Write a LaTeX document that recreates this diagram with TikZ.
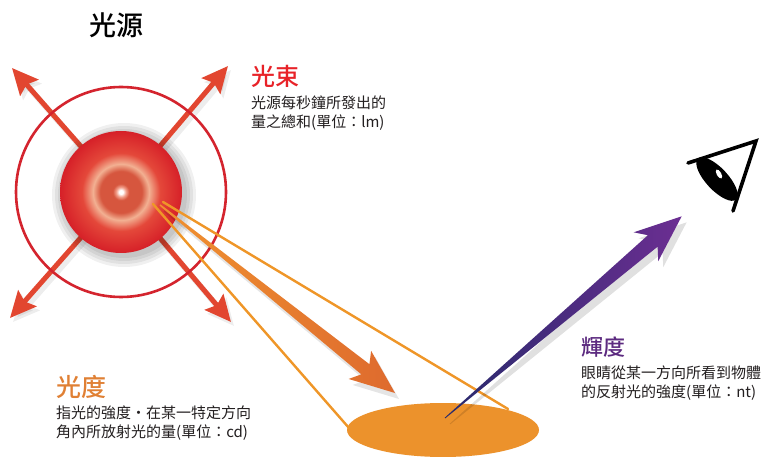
\documentclass[tikz,border=0pt]{standalone}
\usepackage{fontspec}
\setmainfont{Noto Sans CJK TC}
\newfontfamily\headfont{Noto Sans CJK TC}[UprightFont=* Medium]
\usetikzlibrary{arrows.meta,calc}

\definecolor{ringred}{RGB}{212,36,46}
\definecolor{rayred}{RGB}{226,70,48}
\definecolor{beamorange}{RGB}{239,150,40}
\definecolor{spotorange}{RGB}{236,146,44}
\definecolor{shaftorange}{RGB}{240,146,48}
\definecolor{headorange}{RGB}{222,106,46}
\definecolor{lumnavy}{RGB}{40,42,108}
\definecolor{lumpurple}{RGB}{108,46,146}
\definecolor{titlered}{RGB}{232,34,40}
\definecolor{titleorange}{RGB}{224,128,52}
\definecolor{titlepurple}{RGB}{92,42,128}
\definecolor{bodyblack}{RGB}{35,31,32}
\definecolor{lampedge}{RGB}{214,32,40}
\definecolor{lampred}{RGB}{228,72,58}
\definecolor{lamppeach}{RGB}{242,176,146}
\definecolor{lampmid}{RGB}{214,86,62}
\definecolor{lamppink}{RGB}{242,160,140}

% radial colour profile of the glowing source disc
\pgfdeclareradialshading{lampshade}{\pgfpoint{0bp}{0bp}}{%
  color(0bp)=(white); color(0.8bp)=(white); color(2bp)=(lamppink);
  color(3.4bp)=(lampmid); color(8.5bp)=(lampmid); color(11.5bp)=(lamppeach);
  color(16bp)=(lampred); color(25bp)=(lampedge); color(50bp)=(lampedge)}

% tapered arrows, drawn along the local x axis
\newcommand\intensitypath{(0,-0.8) -- (263,-6.5) -- (256,-18) -- (301,0) -- (256,18) -- (263,6.5) -- (0,0.8) -- cycle}
\newcommand\luminancepath{(0,-0.4) -- (273,-7.5) -- (264,-19) -- (311,0) -- (264,19) -- (273,7.5) -- (0,0.4) -- cycle}

\tikzset{
  raytip/.style={-{Stealth[length=26pt,width=24pt,inset=4pt]}, rayred, line width=5pt},
  rayshadow/.style={-{Stealth[length=26pt,width=24pt,inset=4pt]}, black, opacity=0.07, line width=6pt},
  beamline/.style={beamorange, line width=2.4pt, line cap=round},
  headline/.style={anchor=base west, inner sep=0pt},
  bodyline/.style={anchor=base west, inner sep=0pt, text=bodyblack, font=\fontsize{15}{19}\selectfont},
  softshadow/.style={fill=black, fill opacity=0.06},
}

\begin{document}
\begin{tikzpicture}[x=1pt,y=-1pt]
\useasboundingbox (0,0) rectangle (769,457);
\fill[white] (0,0) rectangle (769,457);

% --- key points
\coordinate (lamp) at (121,192);
\coordinate (rayNW) at (12,68);
\coordinate (rayNE) at (228,66);
\coordinate (raySW) at (10,318);
\coordinate (raySE) at (231,322);
\coordinate (spot) at (443,430);
\coordinate (beamA) at (163,202);
\coordinate (beamAend) at (508,409);
\coordinate (beamB) at (153,204);
\coordinate (beamBend) at (349,428);
\coordinate (intensityTail) at (160,205);
\coordinate (luminanceTail) at (445,418);
\coordinate (eyeA) at (688,163);
\coordinate (eyeB) at (756,141);
\coordinate (eyeC) at (733,211);
\coordinate (iris) at (717,179);
\coordinate (pupil) at (719,174);

% --- luminous flux: four rays from the source
\foreach \t in {rayNW,rayNE,raySW,raySE}
  \draw[rayshadow] ($(lamp)+(3,4)$) -- ($(\t)+(3,4)$);
\foreach \t in {rayNW,rayNE,raySW,raySE}
  \draw[raytip] (lamp) -- (\t);

\draw[ringred, line width=2.6pt] (lamp) circle (105);

% soft halo and the source disc
\foreach \r in {63,66,69,72}
  \fill[softshadow] ($(lamp)+(3,3)$) circle (\r);
\shade[shading=lampshade] (lamp) circle (61);

% --- illuminated patch
\fill[spotorange] (spot) ellipse [x radius=96, y radius=27];

% --- cone of the beam
\draw[beamline] (beamA) -- (beamAend);
\draw[beamline] (beamB) -- (beamBend);

% --- luminous intensity arrow
\begin{scope}[shift={($(intensityTail)+(4,6)$)}, rotate=-38.66]
  \fill[black, opacity=0.10] \intensitypath;
\end{scope}
\begin{scope}[shift={(intensityTail)}, rotate=-38.66]
  \shade[left color=shaftorange, right color=headorange] \intensitypath;
\end{scope}

% --- luminance arrow
\begin{scope}[shift={($(luminanceTail)+(5,6)$)}, rotate=40.44]
  \fill[black, opacity=0.12] \luminancepath;
\end{scope}
\begin{scope}[shift={(luminanceTail)}, rotate=40.44]
  \shade[left color=lumnavy, right color=lumpurple] \luminancepath;
\end{scope}

% --- eye
\draw[line width=3.6pt, line cap=round, line join=miter] (eyeA) -- (eyeB) -- (eyeC);
\fill[rotate around={-47:(iris)}] (iris) ellipse [x radius=28, y radius=11];
\fill[white, rotate around={-60:(pupil)}] (pupil) ellipse [x radius=5, y radius=2.3];

% --- labels
\node[headline, font=\headfont\fontsize{27}{30}\selectfont] (srcTitle) at (89,36) {光源};

\node[headline, text=titlered, font=\headfont\fontsize{24}{28}\selectfont] (fluxTitle) at (251,86) {光束};
\node[bodyline] (fluxLineA) at (251,108.7) {光源每秒鐘所發出的};
\node[bodyline] (fluxLineB) at (251,127.7) {量之總和(單位：lm)};

\node[headline, text=titleorange, font=\headfont\fontsize{25}{28}\selectfont] (intTitle) at (56,396.5) {光度};
\node[bodyline] (intLineA) at (56,418.7) {指光的強度‧在某一特定方向};
\node[bodyline] (intLineB) at (56,437.7) {角內所放射光的量(單位：cd)};

\node[headline, text=titlepurple, font=\headfont\fontsize{22}{26}\selectfont] (lumTitle) at (581,355.4) {輝度};
\node[bodyline] (lumLineA) at (581,378.7) {眼睛從某一方向所看到物體};
\node[bodyline] (lumLineB) at (581,397.7) {的反射光的強度(單位：nt)};
\end{tikzpicture}
\end{document}
